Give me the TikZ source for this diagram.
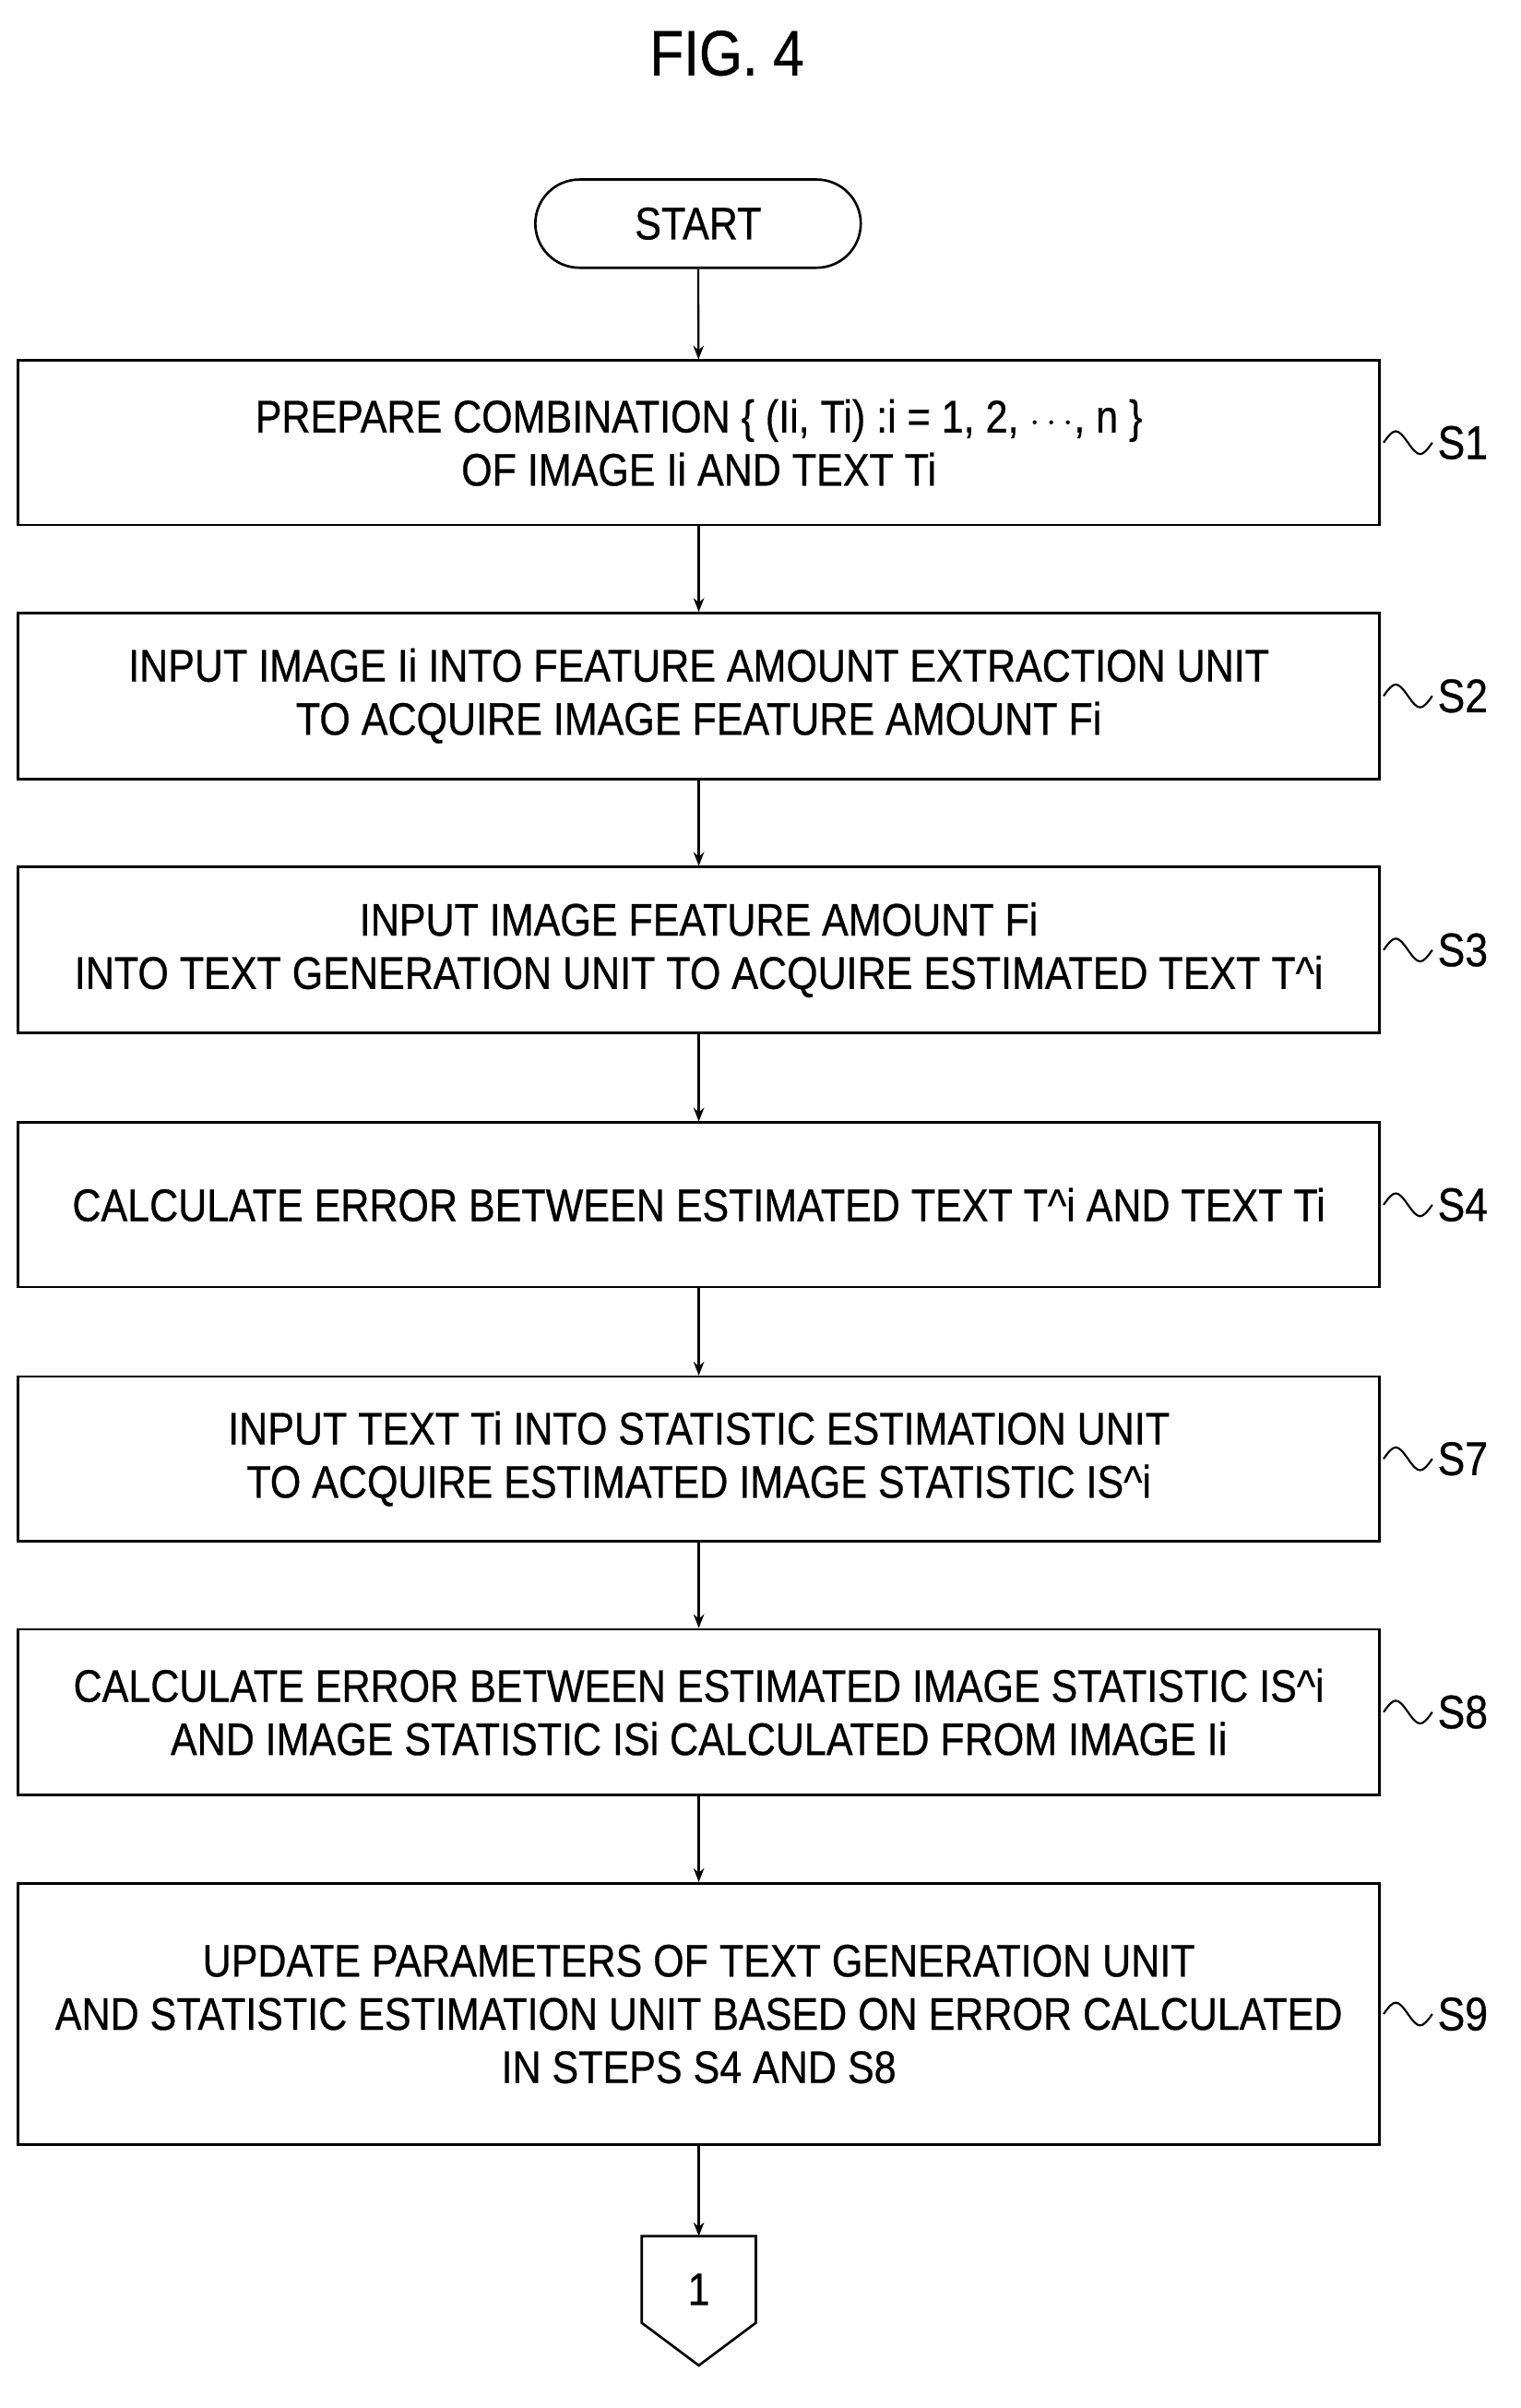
\documentclass[tikz,border=0pt]{standalone}
\usepackage{fontspec}
\newfontfamily\cond[FakeStretch=0.87,FakeBold=0.6]{Liberation Sans}
\usetikzlibrary{arrows.meta}
\begin{document}
\begin{tikzpicture}[x=1pt,y=-1pt,
 box/.style={draw,line width=1.6pt,minimum width=895pt,align=center,font=\cond\fontsize{30}{35}\selectfont,inner sep=0pt},
 lab/.style={font=\cond\fontsize{31}{35}\selectfont,anchor=west},
 arr/.style={-{Stealth[length=9pt,width=7pt]},line width=1.4pt},
 sq/.style={line width=1.3pt}]
\useasboundingbox (0,0) rectangle (1000,1583);
\node[font=\cond\fontsize{42}{46}\selectfont] (title) at (478,35) {FIG. 4};
\node[draw,line width=1.6pt,rounded corners=29pt,minimum width=214pt,minimum height=58pt,font=\cond\fontsize{30}{35}\selectfont] (start) at (459,147) {START};
\node[box,minimum height=108pt] (s1) at (459.5,291) {PREPARE COMBINATION \{ (Ii, Ti) :i = 1, 2, $\cdots$, n \}\\OF IMAGE Ii AND TEXT Ti};
\node[box,minimum height=109pt] (s2) at (459.5,457.5) {INPUT IMAGE Ii INTO FEATURE AMOUNT EXTRACTION UNIT\\TO ACQUIRE IMAGE FEATURE AMOUNT Fi};
\node[box,minimum height=109pt] (s3) at (459.5,624.5) {INPUT IMAGE FEATURE AMOUNT Fi\\INTO TEXT GENERATION UNIT TO ACQUIRE ESTIMATED TEXT T\^{}i};
\node[box,minimum height=108pt] (s4) at (459.5,792) {CALCULATE ERROR BETWEEN ESTIMATED TEXT T\^{}i AND TEXT Ti};
\node[box,minimum height=108pt] (s7) at (459.5,959) {INPUT TEXT Ti INTO STATISTIC ESTIMATION UNIT\\TO ACQUIRE ESTIMATED IMAGE STATISTIC IS\^{}i};
\node[box,minimum height=109pt] (s8) at (459.5,1125.5) {CALCULATE ERROR BETWEEN ESTIMATED IMAGE STATISTIC IS\^{}i\\AND IMAGE STATISTIC ISi CALCULATED FROM IMAGE Ii};
\node[box,minimum height=172pt] (s9) at (459.5,1324) {UPDATE PARAMETERS OF TEXT GENERATION UNIT\\AND STATISTIC ESTIMATION UNIT BASED ON ERROR CALCULATED\\IN STEPS S4 AND S8};
\coordinate (c1) at (459.5,1470);
\draw[line width=1.6pt] (422,1470) -- (497,1470) -- (497,1527) -- (459.5,1555) -- (422,1527) -- cycle;
\node[font=\cond\fontsize{30}{35}\selectfont] (one) at (459.5,1505) {1};
\draw[arr] (start) -- (s1);
\draw[arr] (s1) -- (s2);
\draw[arr] (s2) -- (s3);
\draw[arr] (s3) -- (s4);
\draw[arr] (s4) -- (s7);
\draw[arr] (s7) -- (s8);
\draw[arr] (s8) -- (s9);
\draw[arr] (s9) -- (c1);
\foreach \n/\t in {s1/S1,s2/S2,s3/S3,s4/S4,s7/S7,s8/S8,s9/S9}{
 \draw[sq] (\n.east) ++(2,0) .. controls +(7,-10) and +(-7,-10) .. ++(16,0) .. controls +(7,10) and +(-7,10) .. ++(16,0) coordinate (\n q);
 \node[lab] at ([xshift=0pt]\n q) {\t};
}
\end{tikzpicture}
\end{document}
